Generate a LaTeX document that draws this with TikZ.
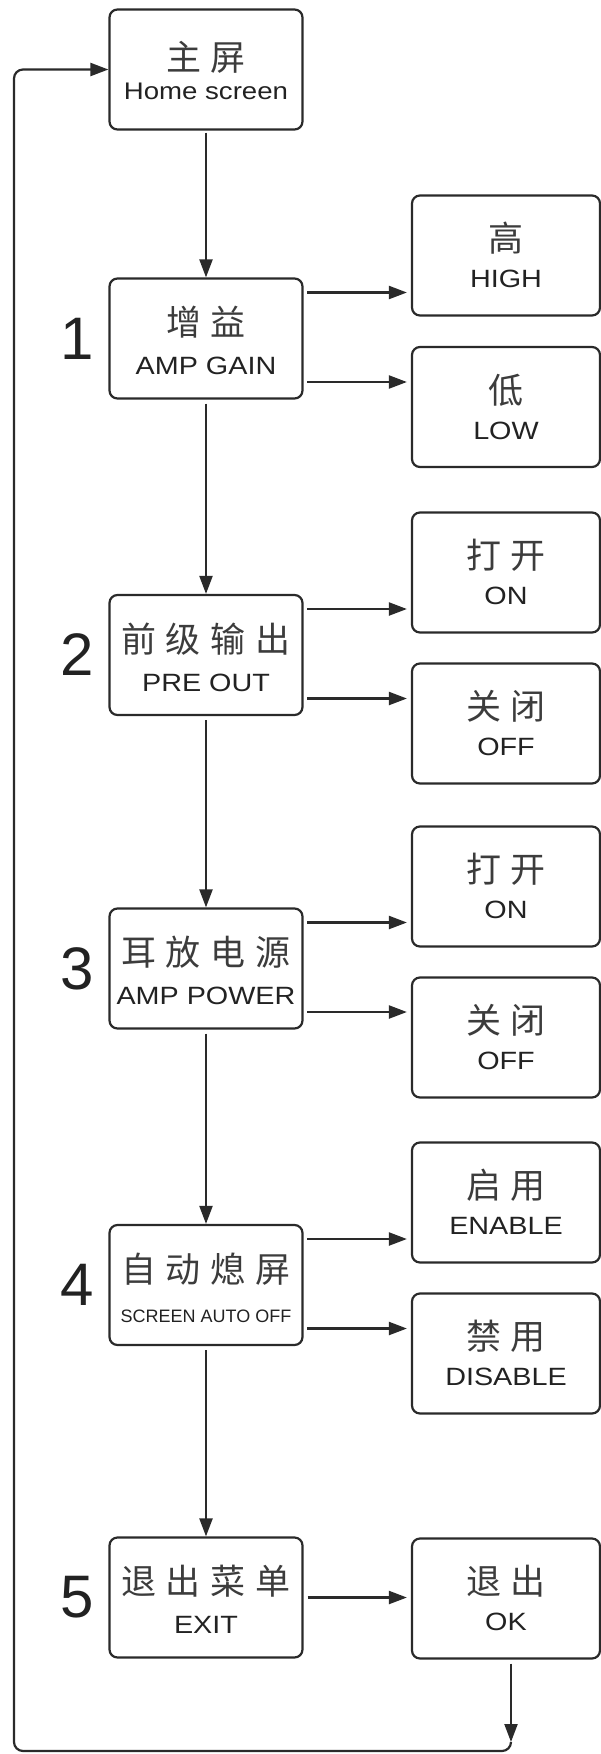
\documentclass[tikz,border=0pt]{standalone}
\usepackage{fontspec}
\setmainfont{Liberation Sans}
\newfontfamily\enfont[FakeStretch=1.15]{Liberation Sans}
\newfontfamily\ensmall{Liberation Sans}
\newfontfamily\cjkfont{Noto Sans CJK SC}
\usetikzlibrary{arrows.meta,calc}
\definecolor{linec}{HTML}{2A2A2A}
\definecolor{zhc}{HTML}{3C3C3C}
\definecolor{enc}{HTML}{222222}
\newcommand\zhgap{\hspace{10pt}}
\begin{document}
\begin{tikzpicture}[x=1pt,y=-1pt,
  box/.style={draw=linec, line width=2.2pt, rounded corners=8pt, minimum width=193pt, minimum height=120pt, inner sep=0pt},
  rbox/.style={box, minimum width=188pt},
  zh/.style={anchor=base, inner sep=0pt, text=zhc, font=\cjkfont\fontsize{35}{35}\selectfont},
  en/.style={anchor=base, inner sep=0pt, text=enc, font=\enfont\fontsize{25}{25}\selectfont},
  num/.style={inner sep=0pt, text=enc, font=\ensmall\fontsize{60}{60}\selectfont},
  arr/.style={draw=linec, line width=2.2pt, -{Triangle[length=18pt,width=13pt]}},
]
\useasboundingbox (0,0) rectangle (600,1754);

% main column
\node[box] (home) at (206,69.5) {};
\node[box] (gain) at (206,338.5) {};
\node[box] (pre) at (206,655) {};
\node[box] (pow) at (206,968.5) {};
\node[box] (scr) at (206,1285) {};
\node[box] (exit) at (206,1597.5) {};

% right column
\node[rbox] (high) at (506,255.5) {};
\node[rbox] (low) at (506,407) {};
\node[rbox] (on1) at (506,572.5) {};
\node[rbox] (off1) at (506,723.5) {};
\node[rbox] (on2) at (506,886.5) {};
\node[rbox] (off2) at (506,1037.5) {};
\node[rbox] (ena) at (506,1202.5) {};
\node[rbox] (dis) at (506,1353.5) {};
\node[rbox] (ok) at (506,1598.5) {};

% texts main
\node[zh] (homezh) at ($(home.center)+(0,1)$) {主\zhgap 屏};
\node[en, font=\enfont\fontsize{24}{24}\selectfont] (homeen) at ($(home.center)+(0,29.5)$) {Home screen};
\node[zh] (gainzh) at ($(gain.center)+(0,-3)$) {增\zhgap 益};
\node[en] (gainen) at ($(gain.center)+(0,36)$) {AMP GAIN};
\node[zh] (prezh) at ($(pre.center)+(0,-3)$) {前\zhgap 级\zhgap 输\zhgap 出};
\node[en] (preen) at ($(pre.center)+(0,36)$) {PRE OUT};
\node[zh] (powzh) at ($(pow.center)+(0,-3)$) {耳\zhgap 放\zhgap 电\zhgap 源};
\node[en] (powen) at ($(pow.center)+(0,36)$) {AMP POWER};
\node[zh] (scrzh) at ($(scr.center)+(0,-3)$) {自\zhgap 动\zhgap 熄\zhgap 屏};
\node[en, font=\ensmall\fontsize{18}{18}\selectfont] (scren) at ($(scr.center)+(0,37)$) {SCREEN AUTO OFF};
\node[zh] (exitzh) at ($(exit.center)+(0,-3)$) {退\zhgap 出\zhgap 菜\zhgap 单};
\node[en] (exiten) at ($(exit.center)+(0,36)$) {EXIT};

% texts right
\node[zh] (highzh) at ($(high.center)+(0,-4)$) {高};
\node[en] (highen) at ($(high.center)+(0,32)$) {HIGH};
\node[zh] (lowzh) at ($(low.center)+(0,-4)$) {低};
\node[en] (lowen) at ($(low.center)+(0,32)$) {LOW};
\node[zh] (on1zh) at ($(on1.center)+(0,-4)$) {打\zhgap 开};
\node[en] (on1en) at ($(on1.center)+(0,32)$) {ON};
\node[zh] (off1zh) at ($(off1.center)+(0,-4)$) {关\zhgap 闭};
\node[en] (off1en) at ($(off1.center)+(0,32)$) {OFF};
\node[zh] (on2zh) at ($(on2.center)+(0,-4)$) {打\zhgap 开};
\node[en] (on2en) at ($(on2.center)+(0,32)$) {ON};
\node[zh] (off2zh) at ($(off2.center)+(0,-4)$) {关\zhgap 闭};
\node[en] (off2en) at ($(off2.center)+(0,32)$) {OFF};
\node[zh] (enazh) at ($(ena.center)+(0,-4)$) {启\zhgap 用};
\node[en] (enaen) at ($(ena.center)+(0,32)$) {ENABLE};
\node[zh] (diszh) at ($(dis.center)+(0,-4)$) {禁\zhgap 用};
\node[en] (disen) at ($(dis.center)+(0,32)$) {DISABLE};
\node[zh] (okzh) at ($(ok.center)+(0,-4)$) {退\zhgap 出};
\node[en] (oken) at ($(ok.center)+(0,32)$) {OK};

% numbers
\node[num] (n1) at (77,338.5) {1};
\node[num] (n2) at (77,655) {2};
\node[num] (n3) at (77,968.5) {3};
\node[num] (n4) at (77,1285) {4};
\node[num] (n5) at (77,1597.5) {5};

% vertical arrows
\draw[arr, shorten <=2pt] (home.south) -- (gain.north);
\draw[arr, shorten <=4pt] (gain.south) -- (pre.north);
\draw[arr, shorten <=4pt] (pre.south) -- (pow.north);
\draw[arr, shorten <=4pt] (pow.south) -- (scr.north);
\draw[arr, shorten <=4pt] (scr.south) -- (exit.north);

% horizontal arrows
\foreach \m/\a/\b in {gain/high/low, pre/on1/off1, pow/on2/off2, scr/ena/dis}{
  \coordinate (\m-t) at ($(\m.east)+(0,-46)$);
  \coordinate (\m-b) at ($(\m.east)+(0,43.5)$);
  \draw[arr, shorten <=3.5pt, shorten >=4pt] (\m-t) -- (\m-t -| \a.west);
  \draw[arr, shorten <=3.5pt, shorten >=4pt] (\m-b) -- (\m-b -| \b.west);
}
\draw[arr, shorten <=4pt, shorten >=4pt] (exit.east) -- (exit.east -| ok.west);

% return loop
\coordinate (tip) at (511,1742);
\coordinate (br) at (511,1751);
\coordinate (bl) at (14,1751);
\coordinate (tl) at (14,69.5);
\draw[arr, shorten <=4pt] (ok.south -| tip) -- (tip);
\draw[arr, rounded corners=9pt] (tip) -- (br) -- (bl) -- (tl) -- (home.west);
\end{tikzpicture}
\end{document}
